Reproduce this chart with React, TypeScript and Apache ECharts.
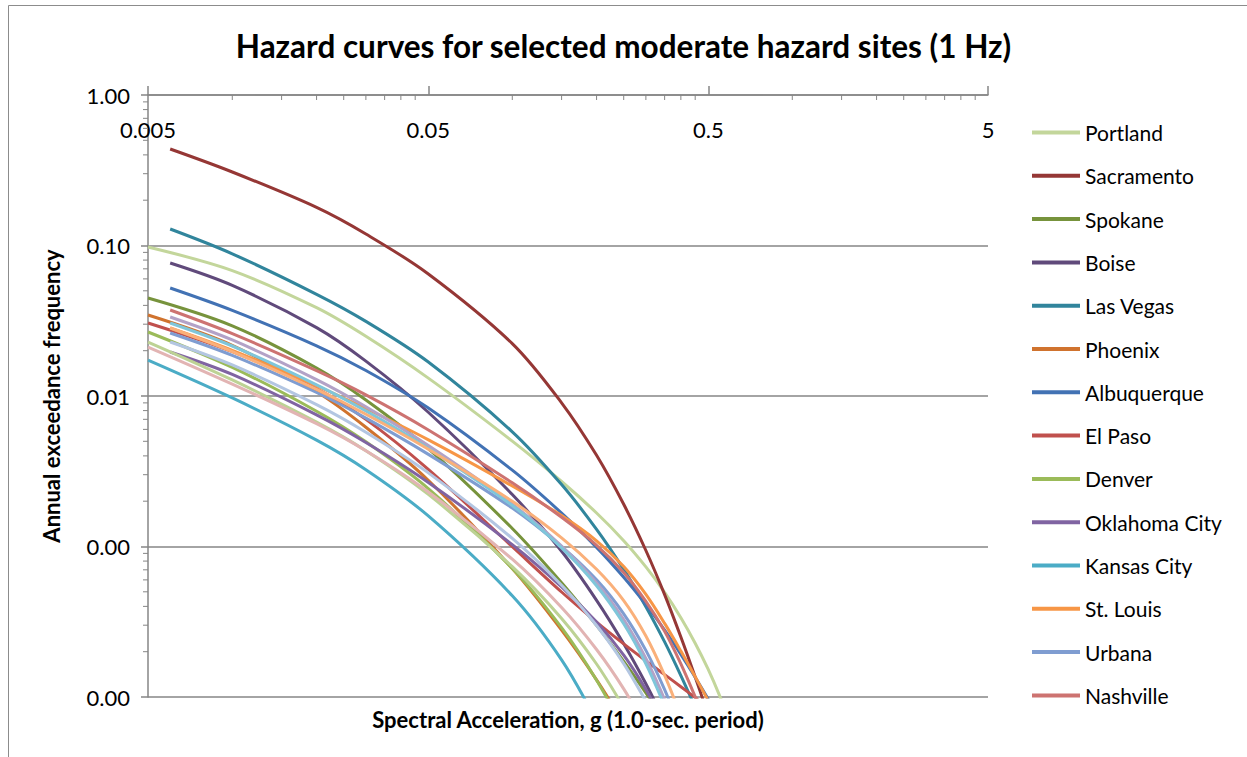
import React, { useEffect, useRef } from "react";
import * as echarts from "echarts";

const titleText = "Hazard curves for selected moderate hazard sites (1 Hz)";
const xAxisTitle = "Spectral Acceleration, g (1.0-sec. period)";
const yAxisTitle = "Annual exceedance frequency";

const legendNames = [
  "Portland", "Sacramento", "Spokane", "Boise", "Las Vegas", "Phoenix", "Albuquerque",
  "El Paso", "Denver", "Oklahoma City", "Kansas City", "St. Louis", "Urbana", "Nashville",
];

const xMinorTicks = [
  0.01, 0.015, 0.02, 0.025, 0.03, 0.035, 0.04, 0.045,
  0.1, 0.15, 0.2, 0.25, 0.3, 0.35, 0.4, 0.45,
  1, 1.5, 2, 2.5, 3, 3.5, 4, 4.5,
];
const yMinorTicks = [
  0.0002, 0.0003, 0.0004, 0.0005, 0.0006, 0.0007, 0.0008, 0.0009,
  0.002, 0.003, 0.004, 0.005, 0.006, 0.007, 0.008, 0.009,
  0.02, 0.03, 0.04, 0.05, 0.06, 0.07, 0.08, 0.09,
  0.2, 0.3, 0.4, 0.5, 0.6, 0.7, 0.8, 0.9,
];

const portland = [[0.005,0.09772],[0.01,0.06811],[0.02,0.03861],[0.03,0.02493],[0.05,0.01319],[0.1,0.005014],[0.15,0.002703],[0.2,0.00167],[0.25,0.001093],[0.3,0.000732],[0.35,0.0004962],[0.4,0.0003365],[0.45,0.0002278],[0.5,0.0001537],[0.55,0.0001022],[0.6,0.00006697]];
const sacramento = [[0.006,0.4377],[0.01,0.3079],[0.02,0.1791],[0.03,0.1192],[0.05,0.06494],[0.1,0.0223],[0.15,0.009012],[0.2,0.004036],[0.25,0.001907],[0.3,0.0009406],[0.35,0.000479],[0.4,0.0002504],[0.45,0.0001358],[0.5,0.0000765]];
const spokane = [[0.005,0.04479],[0.01,0.02927],[0.02,0.01535],[0.03,0.009406],[0.05,0.004485],[0.1,0.001317],[0.15,0.0005747],[0.2,0.000299],[0.25,0.0001727],[0.3,0.0001066],[0.35,0.00006905]];
const boise = [[0.006,0.0765],[0.01,0.05431],[0.02,0.02848],[0.03,0.01706],[0.05,0.007829],[0.1,0.002213],[0.15,0.0009293],[0.2,0.000439],[0.25,0.0002257],[0.3,0.0001224],[0.35,0.00006905]];
const lasVegas = [[0.006,0.1287],[0.01,0.08807],[0.02,0.04738],[0.03,0.03131],[0.05,0.01687],[0.1,0.005782],[0.15,0.002578],[0.2,0.001299],[0.25,0.0007044],[0.3,0.0003981],[0.35,0.0002323],[0.4,0.0001388],[0.45,0.00008542]];
const phoenix = [[0.005,0.03453],[0.01,0.02172],[0.02,0.01068],[0.03,0.006204],[0.05,0.002766],[0.1,0.0007141],[0.15,0.0002782],[0.2,0.0001301],[0.25,0.00006687]];
const albuquerque = [[0.006,0.05219],[0.01,0.03705],[0.02,0.02156],[0.03,0.01477],[0.05,0.008348],[0.1,0.003214],[0.15,0.001667],[0.2,0.0009863],[0.25,0.0006241],[0.3,0.0004111],[0.35,0.0002787],[0.4,0.0001921],[0.45,0.0001354],[0.5,0.00009727],[0.55,0.00007066]];
const elPaso = [[0.005,0.03055],[0.01,0.0197],[0.02,0.01116],[0.03,0.00699],[0.05,0.003268],[0.1,0.000997],[0.15,0.0004985],[0.2,0.0003145],[0.25,0.0002253],[0.3,0.000174],[0.35,0.0001408],[0.4,0.0001171],[0.45,0.00009908],[0.5,0.00008515]];
const denver = [[0.005,0.02662],[0.01,0.01549],[0.02,0.007925],[0.03,0.004962],[0.05,0.002432],[0.1,0.0007141],[0.15,0.0002887],[0.2,0.0001293],[0.25,0.00006109]];
const oklahomaCity = [[0.006,0.01961],[0.01,0.01391],[0.02,0.007489],[0.03,0.004909],[0.05,0.002674],[0.1,0.001029],[0.15,0.0005382],[0.2,0.0003149],[0.25,0.0001895],[0.3,0.000112],[0.35,0.00006506]];
const kansasCity = [[0.005,0.01734],[0.01,0.009714],[0.02,0.005093],[0.03,0.003238],[0.05,0.001602],[0.1,0.0004703],[0.15,0.0001764],[0.2,0.00006905]];
const stLouis = [[0.006,0.02829],[0.01,0.02009],[0.02,0.01169],[0.03,0.008258],[0.05,0.005132],[0.1,0.002523],[0.15,0.001604],[0.2,0.001091],[0.25,0.0007352],[0.3,0.0004804],[0.35,0.0003083],[0.4,0.0002018],[0.45,0.0001362],[0.5,0.00009508],[0.55,0.00006667]];
const urbana = [[0.006,0.02622],[0.01,0.01861],[0.02,0.01055],[0.03,0.007131],[0.05,0.004111],[0.1,0.001799],[0.15,0.0009984],[0.2,0.0006005],[0.25,0.0003571],[0.3,0.000204],[0.35,0.0001118],[0.4,0.00005988]];
const nashville = [[0.006,0.03727],[0.01,0.02598],[0.02,0.01473],[0.03,0.01017],[0.05,0.005971],[0.1,0.00265],[0.15,0.001563],[0.2,0.001019],[0.25,0.0006718],[0.3,0.0004317],[0.35,0.0002732],[0.4,0.000166],[0.45,0.0001003],[0.5,0.00006166]];
const site15 = [[0.006,0.03349],[0.01,0.02356],[0.02,0.01285],[0.03,0.008489],[0.05,0.00471],[0.1,0.00191],[0.15,0.001006],[0.2,0.0005729],[0.25,0.0003268],[0.3,0.0001803],[0.35,0.00009609],[0.4,0.00005023]];
const site16 = [[0.006,0.03055],[0.01,0.02149],[0.02,0.01187],[0.03,0.007962],[0.05,0.0045],[0.1,0.001873],[0.15,0.0009788],[0.2,0.0005489],[0.25,0.0003065],[0.3,0.0001662],[0.35,0.00008729]];
const site17 = [[0.006,0.02829],[0.01,0.01972],[0.02,0.01105],[0.03,0.007569],[0.05,0.004444],[0.1,0.001997],[0.15,0.001142],[0.2,0.0007055],[0.25,0.000437],[0.3,0.000254],[0.35,0.0001391],[0.4,0.00007455]];
const site18 = [[0.005,0.02284],[0.01,0.01279],[0.02,0.006708],[0.03,0.00433],[0.05,0.002226],[0.1,0.0007342],[0.15,0.0003323],[0.2,0.0001657],[0.25,0.00008515]];
const site19 = [[0.005,0.02116],[0.01,0.012],[0.02,0.006545],[0.03,0.004324],[0.05,0.002309],[0.1,0.0008233],[0.15,0.0003933],[0.2,0.0002068],[0.25,0.0001132],[0.3,0.0000624]];
const site20 = [[0.006,0.02284],[0.01,0.01607],[0.02,0.008768],[0.03,0.005747],[0.05,0.003097],[0.1,0.001132],[0.15,0.0005533],[0.2,0.0002986],[0.25,0.0001667],[0.3,0.00009363]];

const seriesDefs = [
  { name: "Portland", color: "#C3D69B", data: portland },
  { name: "Sacramento", color: "#953735", data: sacramento },
  { name: "Spokane", color: "#77933C", data: spokane },
  { name: "Boise", color: "#604A7B", data: boise },
  { name: "Las Vegas", color: "#31859C", data: lasVegas },
  { name: "Phoenix", color: "#D0732E", data: phoenix },
  { name: "Albuquerque", color: "#4272B4", data: albuquerque },
  { name: "El Paso", color: "#C0504D", data: elPaso },
  { name: "Denver", color: "#9BBB59", data: denver },
  { name: "Oklahoma City", color: "#8064A2", data: oklahomaCity },
  { name: "Kansas City", color: "#4BACC6", data: kansasCity },
  { name: "St. Louis", color: "#F79646", data: stLouis },
  { name: "Urbana", color: "#7F9DD1", data: urbana },
  { name: "Nashville", color: "#CD7371", data: nashville },
  { name: "Site 15", color: "#B3A2C7", data: site15 },
  { name: "Site 16", color: "#7FC6DA", data: site16 },
  { name: "Site 17", color: "#FAB07A", data: site17 },
  { name: "Site 18", color: "#BDD294", data: site18 },
  { name: "Site 19", color: "#E2B4B3", data: site19 },
  { name: "Site 20", color: "#B3C6E2", data: site20 },
];

const axisColor = "#868686";
const font = "Lato, 'Open Sans', sans-serif";

export default function App() {
  const ref = useRef<HTMLDivElement>(null);
  useEffect(() => {
    const chart = echarts.init(ref.current as HTMLDivElement, null, { renderer: "svg" });
    const lineSeries = seriesDefs.map((s) => ({
      type: "line",
      name: s.name,
      data: s.data,
      smooth: 0.33,
      showSymbol: false,
      symbol: "none",
      clip: true,
      lineStyle: { width: 3, color: s.color },
      itemStyle: { color: s.color },
      emphasis: { disabled: true },
      z: 2,
    }));
    const option: any = {
      animation: false,
      backgroundColor: "#ffffff",
      title: {
        text: titleText,
        left: "center",
        top: 25,
        textStyle: { fontFamily: font, fontWeight: "bold", fontSize: 31.5, color: "#000" },
      },
      legend: {
        data: legendNames,
        orient: "vertical",
        left: 1027,
        top: 117,
        itemWidth: 48,
        itemHeight: 4,
        itemGap: 22.3,
        icon: "rect",
        textStyle: { fontFamily: font, fontSize: 21, color: "#000" },
        selectedMode: false,
      },
      graphic: [
        {
          type: "rect",
          shape: { x: 8.5, y: 5.5, width: 1300, height: 800 },
          style: { fill: "none", stroke: "#8c8c8c", lineWidth: 1 },
          silent: true,
          z: -10,
        },
      ],
      grid: { left: 148, right: 259, top: 95, bottom: 60, containLabel: false },
      xAxis: [
        {
          type: "log",
          logBase: 10,
          min: 0.005,
          max: 5,
          interval: 1,
          position: "top",
          axisLine: { show: true, lineStyle: { color: axisColor, width: 1.5 } },
          axisTick: { show: true, inside: false, length: 9, lineStyle: { color: axisColor, width: 1.5 } },
          axisLabel: {
            inside: true,
            margin: 23,
            fontFamily: font,
            fontSize: 22,
            color: "#000",
            formatter: (v: number) => String(parseFloat(Number(v).toPrecision(1))),
          },
          splitLine: { show: false },
        },
        {
          type: "log",
          logBase: 10,
          min: 0.005,
          max: 5,
          position: "bottom",
          axisLine: { show: false },
          axisTick: { show: false },
          axisLabel: { show: false },
          splitLine: { show: false },
          name: xAxisTitle,
          nameLocation: "middle",
          nameGap: 11.5,
          nameTextStyle: { fontFamily: font, fontWeight: "bold", fontSize: 22, color: "#000" },
        },
      ],
      yAxis: {
        type: "log",
        logBase: 10,
        min: 0.0001,
        max: 1,
        interval: 1,
        axisLine: { show: true, lineStyle: { color: axisColor, width: 1.5 } },
        axisTick: { show: true, inside: false, length: 7, lineStyle: { color: axisColor, width: 1.5 } },
        axisLabel: {
          margin: 18,
          fontFamily: font,
          fontSize: 22,
          color: "#000",
          formatter: (v: number) => Number(v).toFixed(2),
        },
        splitLine: { show: true, lineStyle: { color: axisColor, width: 1.5 } },
        name: yAxisTitle,
        nameLocation: "middle",
        nameGap: 86,
        nameTextStyle: { fontFamily: font, fontWeight: "bold", fontSize: 22, color: "#000" },
      },
      series: [
        ...lineSeries,
        {
          type: "custom",
          name: "xMinor",
          silent: true,
          clip: false,
          xAxisIndex: 0,
          yAxisIndex: 0,
          data: xMinorTicks.map((v) => [v, 1]),
          renderItem: (_p: any, api: any) => {
            const pt = api.coord([api.value(0), api.value(1)]);
            return {
              type: "line",
              shape: { x1: pt[0], y1: pt[1], x2: pt[0], y2: pt[1] + 5 },
              style: { stroke: axisColor, lineWidth: 1 },
            };
          },
          z: 5,
        },
        {
          type: "custom",
          name: "yMinor",
          silent: true,
          clip: false,
          xAxisIndex: 0,
          yAxisIndex: 0,
          data: yMinorTicks.map((v) => [0.005, v]),
          renderItem: (_p: any, api: any) => {
            const pt = api.coord([api.value(0), api.value(1)]);
            return {
              type: "line",
              shape: { x1: pt[0] - 5, y1: pt[1], x2: pt[0], y2: pt[1] },
              style: { stroke: axisColor, lineWidth: 1 },
            };
          },
          z: 5,
        },
      ],
    };
    chart.setOption(option);
    return () => chart.dispose();
  }, []);
  return (
    <div
      ref={ref}
      style={{ position: "absolute", left: 0, top: 0, width: 1247, height: 757, background: "#fff" }}
    />
  );
}
